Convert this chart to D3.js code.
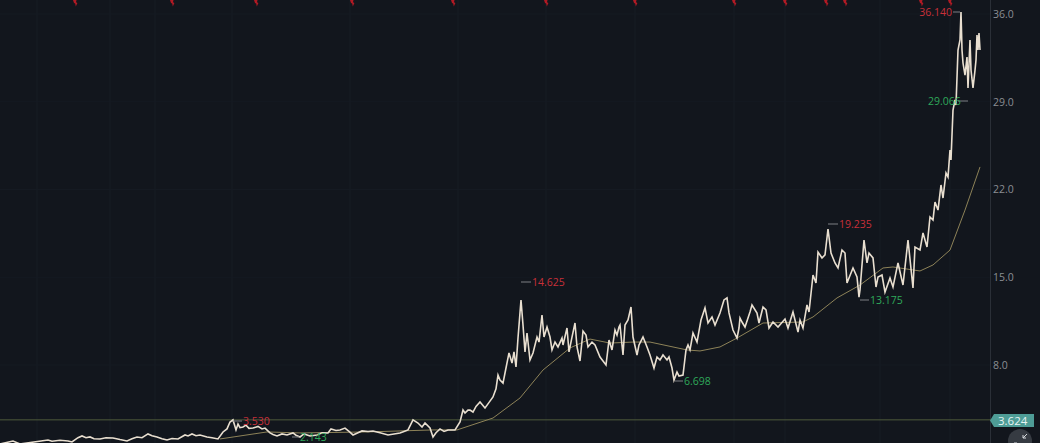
<!DOCTYPE html>
<html><head><meta charset="utf-8">
<script src="https://cdn.jsdelivr.net/npm/d3@7"></script>
<style>html,body{margin:0;padding:0;background:#12161d;overflow:hidden}svg{display:block}text{font-family:"Open Sans",sans-serif}</style>
</head><body><svg id="c" width="1040" height="443"></svg>
<script>
const yTicks=[8,15,22,29,36];
const lastPrice=3.624;
const earlyCloses=[[0,1.7],[6.5,1.94],[10,1.7],[24,2.02],[26,1.92],[30,2.0],[34,1.94],[36,1.86],[39,2.2],[41,2.34],[43,2.2],[45,2.26],[47,2.12],[50,2.1],[53,2.2],[56.5,2.18],[60,2.05],[63.5,1.94],[66,2.12],[68.5,2.26],[71,2.2],[74,2.5],[76,2.36],[78.5,2.26],[81,2.12],[83.5,2.02],[86,2.14],[89,2.1],[92.5,2.42],[94,2.34],[96,2.5],[98,2.36],[100,2.42],[103.5,2.26],[106,2.2],[109,2.1],[111.5,2.66],[113.5,2.9],[115,3.45],[116.5,3.62],[118,2.82],[119,3.29],[120,3.0],[121.5,3.05],[123,3.2],[124.5,2.95],[126.5,2.97],[129,3.1],[131,2.9],[132.5,2.97],[135,2.58],[136.5,2.45],[138.5,2.34],[141,2.5],[143.5,2.42],[146.5,2.58],[148,2.4],[150,2.26],[152,2.5],[155,2.34],[158.5,2.42],[161,2.6],[164,2.58],[165.5,2.9],[168,2.78],[170,2.82],[172.5,2.97],[174.5,2.7],[176.5,2.42],[179,2.6],[181,2.74],[184,2.7],[186.5,2.74],[190,2.6],[194,2.42],[197,2.5],[200,2.58],[202,2.7],[204,2.82],[206.5,3.62],[209,3.37],[211,3.05],[212.5,3.37],[215,2.97],[216.5,2.26],[218,2.6],[220,2.9],[222,2.7],[224,2.82],[227.5,2.82],[230,3.45],[231.5,4.41],[232.5,4.17],[234,4.4],[235,4.41],[236.5,4.25],[238,4.7],[240,5.05],[242.5,4.57],[244,4.9],[246.5,5.45]];
const midCloses=[[248,6.1],[249,7.2],[250,6.8],[251.5,6.56],[252.5,7.36],[254.5,8.96],[256,8.16],[257,9.04],[258,7.84],[259,10.15],[260.5,13.19],[261.5,11.19],[262.5,9.04],[263.5,10.55],[265,8.4],[266.5,8.96],[268.5,10.23],[269.5,9.83],[271,11.99],[272,10.23],[273.5,11.03],[275,10.23],[276,9.2],[277.5,9.83],[279,9.44],[281,10.15],[281.5,9.6],[283.5,10.95],[284.5,9.04],[286,10.23],[287.5,11.35],[288.5,9.44],[290,8.32],[291.5,10.71],[293,10.39],[294,9.44],[296,9.83],[297.5,9.6],[300,8.64],[303,8.0],[304.5,9.99],[306,9.2],[307.5,10.79],[308.5,10.39],[309.5,11.03],[310,11.19],[311.5,8.8],[312.5,11.19],[314,11.59],[315.5,12.63],[316.5,10.23],[318.5,8.8],[319.5,9.6],[321.5,10.23],[323.5,9.44],[325,8.8],[327,7.76],[328.5,8.64],[330,8.4],[331.5,8.8],[333.5,8.4],[334.5,8.64],[336,7.76],[337,6.8],[338.5,7.44],[339.5,7.12],[341.5,7.2],[343,9.2],[344,9.6],[345,9.2],[346.5,10.55],[348.5,9.83],[350.5,11.59],[352.5,12.55],[354,11.35],[356,11.83],[357.5,11.19],[360,12.15]];
const lateCloses=[[362,13.19],[363.5,13.35],[364.5,12.15],[366.5,10.79],[368.5,10.15],[369.5,10.95],[370,11.75],[371,11.43],[372.5,11.03],[375,12.23],[376,12.79],[378.5,12.15],[379.5,11.35],[381.5,12.63],[383,12.39],[384.5,10.95],[386.5,11.43],[389,11.03],[392.5,11.67],[394,10.95],[396.5,12.23],[399,10.63],[400,11.59],[401.5,10.95],[403.5,12.79],[404.5,12.23],[406.5,15.18],[408,14.54],[409,17.01],[411,16.54],[412.5,16.78],[414,18.85],[415.5,16.93],[417.5,16.14],[419,15.74],[421,17.17],[422.5,16.93],[423.5,14.54],[426.5,15.74],[428.5,15.02],[429.5,13.42],[430,13.98],[432,17.97],[433.5,16.14],[434.5,16.93],[436.5,16.54],[438,14.22],[439,15.02],[441,15.18],[442.5,13.82],[445,14.94],[446.5,14.22],[449,16.14],[451.5,14.38],[454,17.97],[456.5,14.14],[457.5,17.41],[460,17.17],[461.5,18.53],[463.5,17.41],[465,19.81],[466.5,19.57],[467.5,21.0],[469,20.36],[470.5,22.36],[471.5,21.32],[473,23.32],[474,23.0],[475,25.15],[475.5,24.35],[476.5,28.34],[477.5,29.14],[478,28.74],[479,33.13],[480,33.93],[480.5,36.16],[481,33.13],[481.5,32.09],[482.5,31.13],[483.5,32.57],[484,30.1],[485,33.93],[485.5,31.53],[486.5,30.1],[487.5,31.5],[488,32.33],[488.5,34.32],[489,33.13],[489.5,34.48],[490,33.13]];
const avgSessions=[110,133.5,150,183.5,216.5,228.5,246.5,260,271.5,285,295,305,316.5,325,343.5,350,360,368.5,381.5,401.5,406.5,418.5,430,441.5,446.5,460,466.5,475,482.5,490];
const avgValues=[2.1,2.66,2.58,2.66,2.82,2.82,3.77,5.37,7.6,9.36,10.07,9.75,9.83,9.83,9.2,9.12,9.44,10.15,11.35,11.43,11.83,13.35,14.38,15.74,15.82,15.5,15.98,17.17,20.36,23.8];
const noteLabels=["36.140","29.066","19.235","14.625","13.175","6.698","3.530","2.143"];
const noteKinds=["hi","lo","hi","hi","lo","lo","hi","lo"];
const signalSessions=[37.5,86,128,176,226.5,273,317.5,367,392.5,413,422.5,460.5,475];
const gridSessions=[18.5,55,77.5,116,175,229,273,317.5,367,392.5,440,475];
const closes=[...earlyCloses,...midCloses,...lateCloses];

const W=1040,H=443;
const x=d3.scaleLinear().domain([0,490]).range([0,980]);
const y=d3.scaleLinear().domain([8,36]).range([365,14]);
const svg=d3.select("#c");
svg.append("rect").attr("width",W).attr("height",H).attr("fill","#12161d");
svg.selectAll(".g").data(gridSessions).join("line").attr("x1",d=>x(d)).attr("x2",d=>x(d)).attr("y1",0).attr("y2",H).attr("stroke","#171c25");
svg.selectAll(".h").data(yTicks).join("line").attr("x1",0).attr("x2",990).attr("y1",d=>y(d)).attr("y2",d=>y(d)).attr("stroke","#151a22");
svg.append("line").attr("x1",990.5).attr("x2",990.5).attr("y1",0).attr("y2",H).attr("stroke","#2a2f37");
svg.append("line").attr("x1",0).attr("x2",993).attr("y1",y(lastPrice)).attr("y2",y(lastPrice)).attr("stroke","#4e5a3a");

const ax=svg.append("g").attr("transform","translate(993,0)").call(d3.axisRight(y).tickValues(yTicks).tickSize(0).tickPadding(0).tickFormat(d3.format(".1f")));
ax.select(".domain").remove();
ax.selectAll("text").attr("fill","#8b8e93").attr("font-size",10.5);

const line=d3.line().x(d=>x(d[0])).y(d=>y(d[1]));
svg.append("path").attr("d",line(d3.zip(avgSessions,avgValues))).attr("fill","none").attr("stroke","#8d8258").attr("stroke-width",1);
svg.append("path").attr("d",line(closes)).attr("fill","none").attr("stroke","#e9dfd0").attr("stroke-width",1.6);

svg.selectAll(".sig").data(signalSessions).join("path")
 .attr("d","M-2,0L1.5,0L1,2.2L2.4,3L0.8,6.5L0.2,3.6L-1,3Z")
 .attr("transform",d=>`translate(${x(d)},0)`).attr("fill","#b01a24");

const red="#c8303a",green="#2fa85a",gray="#7c7f84";
const notePlace=[
 {tx:952,ty:12,a:"end",x1:953,x2:960,y0:12},
 {tx:928,ty:101,a:"start",x1:958,x2:968,y0:101},
 {tx:839,ty:224,a:"start",x1:828,x2:838,y0:224},
 {tx:532,ty:282,a:"start",x1:521,x2:531,y0:282},
 {tx:870,ty:300,a:"start",x1:860,x2:869,y0:300},
 {tx:684,ty:381,a:"start",x1:675,x2:683,y0:381},
 {tx:243,ty:421,a:"start",x1:233,x2:242,y0:421},
 {tx:300,ty:437,a:"start",x1:292,x2:299,y0:437}];
noteLabels.forEach((t,i)=>{
 const p=notePlace[i];
 svg.append("line").attr("x1",p.x1).attr("x2",p.x2).attr("y1",p.y0).attr("y2",p.y0).attr("stroke",gray);
 svg.append("text").attr("x",p.tx).attr("y",p.ty+4).attr("text-anchor",p.a).attr("font-size",10.5)
   .attr("fill",noteKinds[i]==="hi"?red:green).text(t);
});

svg.append("path").attr("d","M990,420.5L994,414H1034V427H994Z").attr("fill","#4e9c96");
svg.append("text").attr("x",998).attr("y",424.5).attr("font-size",11.5).attr("fill","#e8f3f2").text(d3.format(".3f")(lastPrice));
svg.append("circle").attr("cx",1020).attr("cy",441).attr("r",12).attr("fill","#363b42");
svg.append("path").attr("d","M1023,438L1027,434M1023,438H1026M1023,438V435M1017,443L1013,447M1017,443H1014M1017,443V446").attr("stroke","#d4d7da").attr("fill","none");
</script></body></html>
